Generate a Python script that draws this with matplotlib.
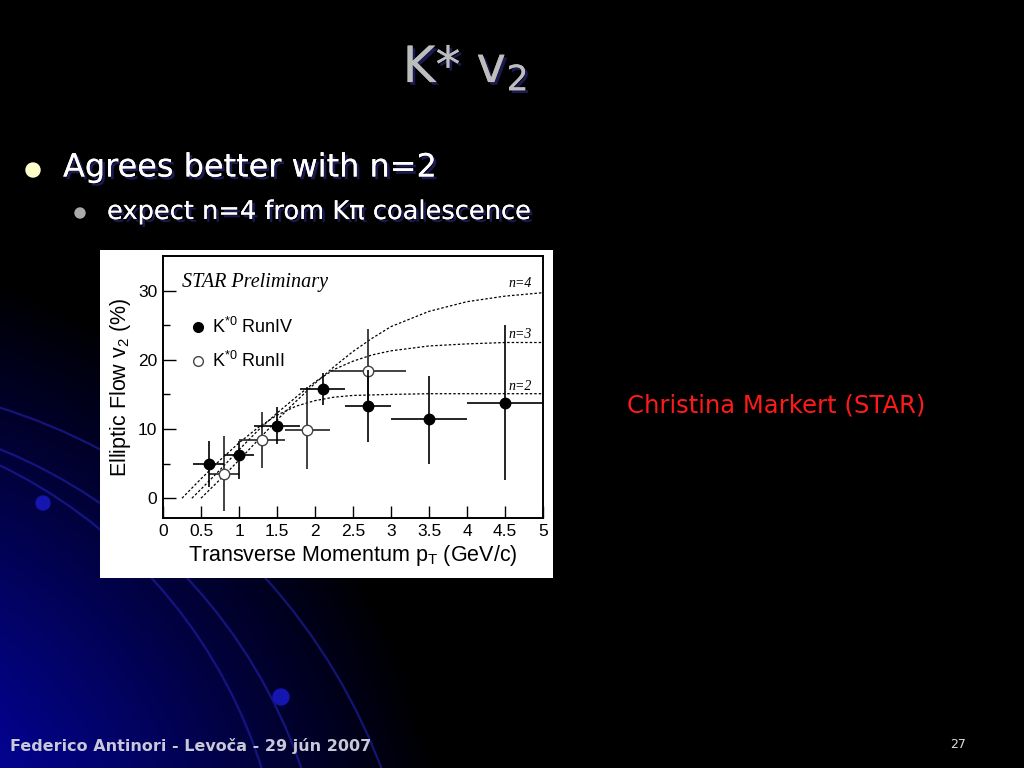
import numpy as np
import matplotlib
matplotlib.use('Agg')
import matplotlib.pyplot as plt
from matplotlib.lines import Line2D
from matplotlib.patches import Arc, Rectangle, Circle
import matplotlib.patheffects as pe

plt.rcParams['mathtext.default'] = 'regular'

# K*0 Run IV (filled circles)
run4_pt = [0.6, 1.0, 1.5, 2.1, 2.7, 3.5, 4.5]
run4_v2 = [4.9, 6.2, 10.5, 15.8, 13.3, 11.4, 13.8]
run4_elo = [3.3, 3.4, 2.6, 2.4, 5.2, 6.4, 11.1]
run4_ehi = [3.3, 2.1, 2.7, 2.3, 5.2, 6.3, 11.2]
run4_xerr = [0.2, 0.2, 0.3, 0.3, 0.3, 0.5, 0.5]

# K*0 Run II (open circles)
run2_pt = [0.8, 1.3, 1.9, 2.7]
run2_v2 = [3.5, 8.4, 9.9, 18.4]
run2_elo = [5.4, 4.0, 5.7, 6.0]
run2_ehi = [5.5, 4.0, 6.1, 6.0]
run2_xerr = [0.2, 0.3, 0.3, 0.5]

# NCQ scaling curves
n2_pt = [0.25, 0.5, 0.75, 1.0, 1.25, 1.5, 1.75, 2.0, 2.25, 2.5, 3.0, 3.5, 4.0, 4.5, 5.0]
n2_v2 = [0.0, 2.8, 5.5, 8.0, 10.2, 12.0, 13.3, 14.1, 14.6, 14.85, 15.0, 15.1, 15.1, 15.1, 15.1]
n3_pt = [0.38, 0.5, 0.75, 1.0, 1.25, 1.5, 1.75, 2.0, 2.25, 2.5, 2.75, 3.0, 3.5, 4.0, 4.5, 5.0]
n3_v2 = [0.0, 1.3, 4.1, 7.0, 9.8, 12.3, 14.6, 16.8, 18.6, 19.8, 20.7, 21.3, 22.0, 22.3, 22.5, 22.5]
n4_pt = [0.5, 0.75, 1.0, 1.25, 1.5, 1.75, 2.0, 2.25, 2.5, 2.75, 3.0, 3.5, 4.0, 4.5, 5.0]
n4_v2 = [0.0, 2.7, 5.5, 8.4, 11.3, 14.0, 16.6, 19.0, 21.2, 23.1, 24.8, 27.0, 28.4, 29.2, 29.7]

xticks = [0, 0.5, 1, 1.5, 2, 2.5, 3, 3.5, 4, 4.5, 5]
xticklabels = ['0', '0.5', '1', '1.5', '2', '2.5', '3', '3.5', '4', '4.5', '5']
yticks = [0, 10, 20, 30]

fig = plt.figure(figsize=(10.24, 7.68), dpi=100)
fig.patch.set_facecolor('black')

# slide background
bg = fig.add_axes([0, 0, 1, 1])
bg.set_xlim(0, 1024)
bg.set_ylim(768, 0)
bg.axis('off')
yy, xx = np.mgrid[0:768:2, 0:1024:2]
d = np.hypot(xx + 200, yy - 900)
inten = np.clip(1 - d / 650.0, 0, 1)
img = np.zeros(xx.shape + (3,))
img[..., 0] = 0.02 * inten
img[..., 1] = 0.02 * inten
img[..., 2] = 0.9 * inten
bg.imshow(img, extent=(0, 1024, 768, 0), aspect='auto', zorder=0)
for cx, cy, r in [(-220, 920, 505), (-200, 940, 530), (-180, 980, 600)]:
    bg.add_patch(Arc((cx, cy), 2 * r, 2 * r, theta1=270, theta2=360,
                     color='#2222b0', lw=1.6, alpha=0.6, zorder=1))
bg.add_patch(Circle((43, 503), 7, color='#1515b0', zorder=1))
bg.add_patch(Circle((281, 697), 8, color='#1515b0', zorder=1))
bg.add_patch(Rectangle((100, 250), 453, 328, facecolor='white', edgecolor='none', zorder=2))

shadow = [pe.withSimplePatchShadow(offset=(2, -2), shadow_rgbFace='#1a1a50', alpha=1), pe.Normal()]
bg.text(465, 68, 'K* v$_2$', color='#bdbdbd', fontsize=36, ha='center', va='center',
        path_effects=shadow)
bg.add_patch(Circle((33, 170), 7, color='#ffffcc', zorder=3))
bg.text(63, 168, 'Agrees better with n=2', color='white', fontsize=23, ha='left', va='center',
        path_effects=shadow)
bg.add_patch(Circle((80, 213), 5, color='#aaaaaa', zorder=3))
bg.text(107, 212, 'expect n=4 from K\u03c0 coalescence', color='white', fontsize=18.5,
        ha='left', va='center', path_effects=shadow)
bg.text(776, 405, 'Christina Markert (STAR)', color='#ff1a1a', fontsize=17.5,
        ha='center', va='center')
bg.text(10, 746, 'Federico Antinori - Levo\u010da - 29 j\u00fan 2007', color='#c8c8d8',
        fontsize=11.5, fontweight='bold', ha='left', va='center')
bg.text(958, 744, '27', color='#dddddd', fontsize=9, ha='center', va='center')

# embedded plot
ax = fig.add_axes([163 / 1024, (768 - 518) / 768, 380 / 1024, 262 / 768])
ax.set_facecolor('white')
cfont = 'Liberation Sans'

dot = dict(color='black', lw=0.9, ls=(0, (2, 1.6)))
ax.plot(n2_pt, n2_v2, **dot)
ax.plot(n3_pt, n3_v2, **dot)
ax.plot(n4_pt, n4_v2, **dot)

ax.errorbar(run4_pt, run4_v2, yerr=[run4_elo, run4_ehi], xerr=run4_xerr, fmt='o',
            color='black', ms=7.5, elinewidth=1.2, capsize=0, zorder=4)
ax.errorbar(run2_pt, run2_v2, yerr=[run2_elo, run2_ehi], xerr=run2_xerr, fmt='o',
            color='#222222', mfc='white', mec='#444444', ms=7.5, elinewidth=1.2,
            capsize=0, zorder=3)

ax.set_xlim(0, 5)
ax.set_ylim(-2.86, 35)
ax.set_xticks(xticks)
ax.set_xticklabels(xticklabels)
ax.set_yticks(yticks)
ax.set_yticks([5, 15, 25], minor=True)
ax.tick_params(direction='in', length=9, width=1, labelsize=12.5, pad=4)
ax.tick_params(which='minor', direction='in', length=5, width=1)
for lab in ax.get_xticklabels() + ax.get_yticklabels():
    lab.set_family(cfont)
for s in ax.spines.values():
    s.set_linewidth(1.4)

ax.set_xlabel('Transverse Momentum p$_T$ (GeV/c)', fontsize=15.5, family=cfont, labelpad=3)
ax.set_ylabel('Elliptic Flow v$_2$ (%)', fontsize=15.5, family=cfont, labelpad=4)

ax.text(0.25, 31.2, 'STAR Preliminary', fontsize=14.5, family='Liberation Serif',
        style='italic', ha='left', va='center')
ax.text(4.86, 31.0, 'n=4', fontsize=10, family='Liberation Serif', style='italic',
        ha='right', va='center')
ax.text(4.86, 23.6, 'n=3', fontsize=10, family='Liberation Serif', style='italic',
        ha='right', va='center')
ax.text(4.86, 16.1, 'n=2', fontsize=10, family='Liberation Serif', style='italic',
        ha='right', va='center')

handles = [Line2D([], [], marker='o', ls='none', color='black', ms=7),
           Line2D([], [], marker='o', ls='none', mfc='white', mec='#444444', ms=7)]
ax.legend(handles, ['K$^{*0}$ RunIV', 'K$^{*0}$ RunII'], loc='upper left',
          bbox_to_anchor=(0.03, 0.83), frameon=False, handlelength=0.8,
          handletextpad=0.4, labelspacing=0.8, prop={'family': cfont, 'size': 13})

fig.savefig('out.png', dpi=100, facecolor='black')
